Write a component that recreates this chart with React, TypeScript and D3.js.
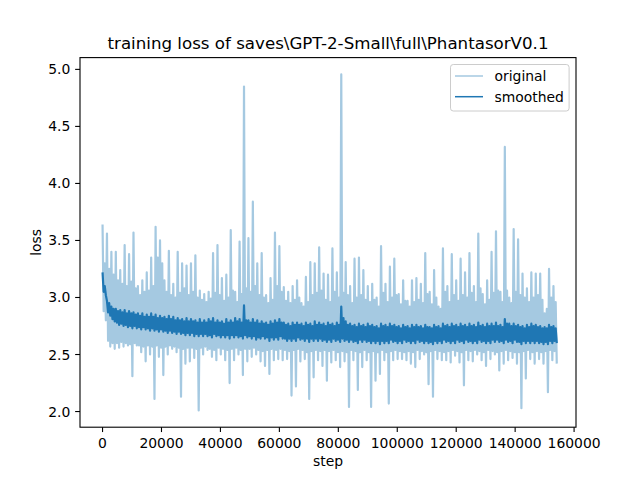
import React from "react";
import * as d3 from "d3";

const STEP = 1500;

// per-bin peaks / dense-body edges / troughs of the raw loss
const origHi = [
  3.64, 3.56, 3.40, 3.40, 3.24, 3.46, 3.38, 3.57, 3.10, 3.15,
  3.22, 3.35, 3.62, 3.50, 3.15, 3.41, 3.12, 3.40, 3.30, 3.28,
  3.30, 3.37, 3.06, 3.03, 3.05, 3.39, 3.46, 3.17, 3.20, 3.59,
  3.05, 3.49, 4.85, 3.52, 3.84, 3.30, 3.39, 3.02, 3.17, 3.57,
  3.45, 3.09, 3.05, 3.10, 3.15, 2.95, 3.18, 3.31, 3.30, 3.44,
  3.21, 3.20, 3.43, 3.22, 4.956, 3.31, 3.10, 3.34, 3.35, 3.24,
  3.10, 3.12, 3.00, 3.45, 3.12, 3.27, 3.34, 3.03, 3.15, 2.97,
  3.15, 3.17, 3.12, 3.39, 3.05, 3.24, 2.92, 3.43, 3.10, 3.38,
  3.15, 3.34, 3.22, 3.39, 3.10, 3.56, 3.03, 3.15, 3.40, 3.58,
  3.05, 4.32, 3.00, 3.60, 3.51, 3.21, 3.08, 3.22, 3.21, 3.21,
  2.86, 3.25, 3.10,
];

const origMidHi = [
  3.30, 3.25, 3.20, 3.15, 3.12, 3.10, 3.14, 3.08, 3.02, 3.05,
  3.06, 3.10, 3.35, 3.30, 3.05, 3.02, 3.00, 3.04, 3.08, 3.02,
  3.05, 3.00, 2.98, 2.96, 2.99, 3.04, 3.02, 2.97, 3.00, 3.06,
  2.96, 3.03, 3.08, 3.05, 3.10, 3.02, 3.00, 2.95, 2.98, 3.10,
  3.05, 2.97, 2.95, 2.98, 3.00, 2.92, 2.96, 3.02, 3.04, 3.06,
  2.98, 2.96, 3.05, 3.00, 3.04, 3.02, 2.95, 3.00, 3.02, 2.98,
  2.96, 2.98, 2.92, 3.04, 2.96, 3.00, 3.02, 2.94, 2.97, 2.92,
  2.96, 2.98, 2.95, 3.03, 2.94, 3.00, 2.90, 3.05, 2.96, 3.02,
  2.97, 3.02, 3.00, 3.04, 2.96, 3.08, 2.94, 2.98, 3.04, 3.06,
  2.96, 3.06, 2.95, 3.05, 3.02, 3.00, 2.96, 3.00, 3.02, 2.98,
  2.90, 3.00, 2.96,
];

const origMidLo = [
  2.88, 2.62, 2.60, 2.60, 2.61, 2.60, 2.59, 2.60, 2.58, 2.57,
  2.58, 2.57, 2.58, 2.56, 2.57, 2.58, 2.57, 2.56, 2.55, 2.56,
  2.56, 2.55, 2.56, 2.57, 2.55, 2.54, 2.56, 2.55, 2.54, 2.55,
  2.56, 2.54, 2.55, 2.55, 2.56, 2.54, 2.53, 2.54, 2.55, 2.54,
  2.55, 2.54, 2.53, 2.54, 2.55, 2.54, 2.52, 2.53, 2.54, 2.53,
  2.54, 2.53, 2.54, 2.52, 2.53, 2.52, 2.54, 2.53, 2.52, 2.54,
  2.52, 2.53, 2.52, 2.54, 2.52, 2.53, 2.54, 2.53, 2.52, 2.53,
  2.52, 2.54, 2.53, 2.52, 2.53, 2.54, 2.53, 2.52, 2.53, 2.54,
  2.53, 2.52, 2.54, 2.53, 2.54, 2.53, 2.52, 2.54, 2.53, 2.52,
  2.53, 2.54, 2.53, 2.52, 2.52, 2.53, 2.54, 2.52, 2.53, 2.52,
  2.53, 2.54, 2.53,
];

const origLo = [
  2.80, 2.57, 2.55, 2.56, 2.57, 2.58, 2.31, 2.58, 2.52, 2.44,
  2.50, 2.11, 2.48, 2.32, 2.50, 2.55, 2.52, 2.13, 2.42, 2.44,
  2.47, 2.01, 2.50, 2.54, 2.48, 2.45, 2.50, 2.45, 2.25, 2.45,
  2.50, 2.32, 2.44, 2.48, 2.50, 2.44, 2.40, 2.33, 2.45, 2.46,
  2.45, 2.46, 2.14, 2.22, 2.44, 2.46, 2.11, 2.30, 2.45, 2.40,
  2.27, 2.43, 2.45, 2.39, 2.44, 2.04, 2.45, 2.19, 2.39, 2.45,
  2.04, 2.27, 2.33, 2.45, 2.07, 2.45, 2.46, 2.46, 2.45, 2.42,
  2.39, 2.46, 2.50, 2.24, 2.13, 2.46, 2.45, 2.45, 2.43, 2.49,
  2.43, 2.23, 2.45, 2.44, 2.50, 2.45, 2.40, 2.46, 2.50, 2.36,
  2.42, 2.45, 2.47, 2.42, 2.03, 2.29, 2.46, 2.42, 2.46, 2.42,
  2.17, 2.45, 2.42,
];

// smoothed loss
const smoothHi = [
  3.22, 2.97, 2.92, 2.90, 2.89, 2.89, 2.88, 2.87, 2.86, 2.86,
  2.85, 2.86, 2.85, 2.84, 2.83, 2.84, 2.83, 2.82, 2.81, 2.82,
  2.81, 2.80, 2.81, 2.80, 2.81, 2.82, 2.80, 2.79, 2.81, 2.80,
  2.82, 2.81, 2.93, 2.80, 2.81, 2.80, 2.79, 2.78, 2.79, 2.80,
  2.81, 2.78, 2.77, 2.78, 2.78, 2.77, 2.78, 2.77, 2.79, 2.78,
  2.77, 2.78, 2.77, 2.78, 2.92, 2.79, 2.77, 2.76, 2.77, 2.76,
  2.77, 2.76, 2.75, 2.77, 2.76, 2.77, 2.76, 2.75, 2.76, 2.75,
  2.76, 2.76, 2.75, 2.76, 2.74, 2.76, 2.75, 2.77, 2.76, 2.77,
  2.76, 2.77, 2.76, 2.77, 2.76, 2.78, 2.76, 2.77, 2.77, 2.78,
  2.76, 2.81, 2.77, 2.77, 2.76, 2.75, 2.76, 2.77, 2.76, 2.75,
  2.74, 2.76, 2.75,
];

const smoothMidHi = [
  3.10, 2.95, 2.90, 2.88, 2.87, 2.86, 2.86, 2.85, 2.84, 2.83,
  2.83, 2.83, 2.82, 2.82, 2.81, 2.81, 2.80, 2.80, 2.79, 2.79,
  2.79, 2.78, 2.78, 2.78, 2.79, 2.78, 2.78, 2.77, 2.78, 2.78,
  2.79, 2.78, 2.80, 2.78, 2.78, 2.77, 2.77, 2.76, 2.77, 2.78,
  2.78, 2.76, 2.75, 2.76, 2.76, 2.75, 2.76, 2.75, 2.76, 2.76,
  2.75, 2.76, 2.75, 2.76, 2.82, 2.76, 2.75, 2.74, 2.75, 2.74,
  2.75, 2.74, 2.73, 2.75, 2.74, 2.75, 2.74, 2.73, 2.74, 2.73,
  2.74, 2.74, 2.73, 2.74, 2.73, 2.74, 2.73, 2.75, 2.74, 2.75,
  2.74, 2.75, 2.74, 2.75, 2.74, 2.75, 2.74, 2.75, 2.75, 2.75,
  2.74, 2.77, 2.75, 2.75, 2.74, 2.73, 2.74, 2.75, 2.74, 2.73,
  2.73, 2.74, 2.73,
];

const smoothMidLo = [
  3.05, 2.87, 2.81, 2.78, 2.77, 2.76, 2.75, 2.75, 2.74, 2.74,
  2.73, 2.73, 2.72, 2.72, 2.71, 2.71, 2.70, 2.70, 2.69, 2.69,
  2.69, 2.68, 2.68, 2.68, 2.67, 2.68, 2.67, 2.67, 2.67, 2.67,
  2.67, 2.66, 2.67, 2.66, 2.66, 2.65, 2.66, 2.65, 2.65, 2.65,
  2.66, 2.64, 2.64, 2.64, 2.65, 2.64, 2.64, 2.64, 2.64, 2.64,
  2.63, 2.63, 2.64, 2.63, 2.64, 2.63, 2.63, 2.62, 2.63, 2.63,
  2.62, 2.62, 2.62, 2.62, 2.62, 2.63, 2.62, 2.62, 2.63, 2.62,
  2.62, 2.63, 2.62, 2.62, 2.61, 2.62, 2.62, 2.63, 2.62, 2.62,
  2.63, 2.62, 2.63, 2.62, 2.62, 2.63, 2.62, 2.62, 2.63, 2.63,
  2.62, 2.63, 2.62, 2.63, 2.61, 2.62, 2.62, 2.62, 2.62, 2.61,
  2.61, 2.62, 2.62,
];

const smoothLo = [
  3.02, 2.84, 2.79, 2.76, 2.75, 2.74, 2.73, 2.73, 2.72, 2.72,
  2.71, 2.71, 2.70, 2.70, 2.69, 2.69, 2.68, 2.68, 2.67, 2.67,
  2.66, 2.66, 2.66, 2.66, 2.65, 2.66, 2.65, 2.65, 2.64, 2.65,
  2.65, 2.64, 2.65, 2.64, 2.63, 2.64, 2.64, 2.62, 2.63, 2.63,
  2.64, 2.62, 2.62, 2.62, 2.63, 2.62, 2.61, 2.62, 2.62, 2.62,
  2.61, 2.61, 2.62, 2.61, 2.62, 2.61, 2.61, 2.60, 2.61, 2.61,
  2.60, 2.60, 2.59, 2.60, 2.60, 2.61, 2.60, 2.60, 2.61, 2.60,
  2.60, 2.61, 2.60, 2.60, 2.59, 2.60, 2.60, 2.61, 2.60, 2.60,
  2.61, 2.60, 2.61, 2.60, 2.60, 2.61, 2.60, 2.60, 2.61, 2.61,
  2.60, 2.61, 2.60, 2.61, 2.59, 2.60, 2.60, 2.60, 2.60, 2.59,
  2.59, 2.60, 2.60,
];

const xTicks = [0, 20000, 40000, 60000, 80000, 100000, 120000, 140000, 160000];
const yTicks = [2.0, 2.5, 3.0, 3.5, 4.0, 4.5, 5.0];

const TITLE = "training loss of saves\\GPT-2-Small\\full\\PhantasorV0.1";
const LEGEND = ["original", "smoothed"];

const W = 640, H = 480;
const L = 80, R = 576, T = 57.6, B = 427.2;
const FONT = "DejaVu Sans, sans-serif";
const LIGHT = "#a5c9e1";
const DARK = "#1f77b4";

function zig(hi: number[], midLo: number[], midHi: number[], lo: number[]): [number, number][] {
  const pts: [number, number][] = [];
  const q = STEP / 4;
  hi.forEach((h, i) => {
    const s = i * STEP;
    pts.push([s, h]);
    pts.push([s + q, midLo[i]]);
    pts.push([s + 2 * q, midHi[i]]);
    pts.push([s + 3 * q, lo[i]]);
  });
  return pts;
}

export default function App() {
  const xMax = (origHi.length - 1) * STEP;
  const xPad = xMax * 0.05;
  const x = d3.scaleLinear().domain([-xPad, xMax + xPad]).range([L, R]);
  const yMin = d3.min(origLo)!;
  const yMax = d3.max(origHi)!;
  const yPad = (yMax - yMin) * 0.05;
  const y = d3.scaleLinear().domain([yMin - yPad, yMax + yPad]).range([B, T]);

  const line = d3
    .line<[number, number]>()
    .x((d) => x(d[0]))
    .y((d) => y(d[1]));

  const origPath = line(zig(origHi, origMidLo, origMidHi, origLo)) || "";
  const smoothPath = line(zig(smoothHi, smoothMidLo, smoothMidHi, smoothLo)) || "";

  return (
    <svg
      width={W}
      height={H}
      style={{ position: "absolute", left: 0, top: 0, background: "#fff" }}
      fontFamily={FONT}
    >
      <rect x={0} y={0} width={W} height={H} fill="#fff" />
      <defs>
        <clipPath id="axclip">
          <rect x={L} y={T} width={R - L} height={B - T} />
        </clipPath>
      </defs>
      <g clipPath="url(#axclip)">
        <path d={origPath} fill="none" stroke={LIGHT} strokeWidth={2.2} strokeLinejoin="round" />
        <path d={smoothPath} fill="none" stroke={DARK} strokeWidth={2.2} strokeLinejoin="round" />
      </g>
      <rect x={L} y={T} width={R - L} height={B - T} fill="none" stroke="#000" strokeWidth={1.1} />
      {xTicks.map((t) => (
        <g key={"x" + t}>
          <line x1={x(t)} x2={x(t)} y1={B} y2={B + 4.86} stroke="#000" strokeWidth={1.1} />
          <text x={x(t)} y={448} textAnchor="middle" fontSize={13.9} fill="#000">
            {String(t)}
          </text>
        </g>
      ))}
      {yTicks.map((t) => (
        <g key={"y" + t}>
          <line x1={L - 4.86} x2={L} y1={y(t)} y2={y(t)} stroke="#000" strokeWidth={1.1} />
          <text x={70.3} y={y(t) + 5} textAnchor="end" fontSize={13.9} fill="#000">
            {t.toFixed(1)}
          </text>
        </g>
      ))}
      <text x={(L + R) / 2} y={465.5} textAnchor="middle" fontSize={13.9} fill="#000">
        step
      </text>
      <text
        transform={`translate(40.5, ${(T + B) / 2}) rotate(-90)`}
        textAnchor="middle"
        fontSize={13.9}
        fill="#000"
      >
        loss
      </text>
      <text x={(L + R) / 2} y={49.3} textAnchor="middle" fontSize={16.67} fill="#000">
        {TITLE}
      </text>
      <g>
        <rect
          x={450.5}
          y={64.5}
          width={118.6}
          height={46.5}
          rx={2.8}
          fill="#fff"
          fillOpacity={0.8}
          stroke="#cccccc"
          strokeWidth={1}
        />
        <line x1={455} x2={483} y1={76} y2={76} stroke={LIGHT} strokeWidth={1.5} />
        <line x1={455} x2={483} y1={96.7} y2={96.7} stroke={DARK} strokeWidth={1.5} />
        <text x={494.5} y={81} fontSize={13.9} fill="#000">
          {LEGEND[0]}
        </text>
        <text x={494.5} y={101.7} fontSize={13.9} fill="#000">
          {LEGEND[1]}
        </text>
      </g>
    </svg>
  );
}
